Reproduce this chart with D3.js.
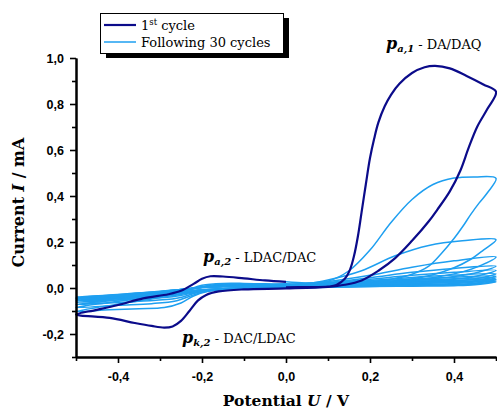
<!DOCTYPE html>
<html>
<head>
<meta charset="utf-8">
<script src="https://cdn.jsdelivr.net/npm/d3@7"></script>
<style>
  body { margin: 0; background: #fff; }
  svg { display: block; }
</style>
</head>
<body>
<script>
const svgWidth = 497
const svgHeight = 410

const margin = { top: 58, right: 1, bottom: 53, left: 76 }
const chartWidth = svgWidth - margin.left - margin.right
const chartHeight = svgHeight - margin.top - margin.bottom

const colorFirst = "#0b0b8a"
const colorFollow = "#1e9ff0"

// tick values
const xMajor = [-0.4, -0.2, 0.0, 0.2, 0.4]
const xMinor = [-0.5, -0.3, -0.1, 0.1, 0.3, 0.5]
const yMajor = [-0.2, 0.0, 0.2, 0.4, 0.6, 0.8, 1.0]
const yMinor = [-0.3, -0.1, 0.1, 0.3, 0.5, 0.7, 0.9]

const legendLabels = ["1st cycle", "Following 30 cycles"]

// [U / V, I / mA]
const cycle01 = [
  [0.0, 0.003], [0.05, 0.004], [0.1, 0.006], [0.12, 0.013], [0.14, 0.04], [0.152, 0.078],
  [0.162, 0.14], [0.171, 0.223], [0.18, 0.33], [0.19, 0.45], [0.2, 0.565], [0.21, 0.65],
  [0.22, 0.72], [0.235, 0.79], [0.25, 0.84], [0.27, 0.888], [0.3, 0.935], [0.33, 0.96],
  [0.355, 0.966], [0.39, 0.955], [0.43, 0.922], [0.47, 0.885], [0.5, 0.853],
  [0.48, 0.78], [0.455, 0.70], [0.435, 0.61], [0.415, 0.51], [0.39, 0.42], [0.36, 0.34],
  [0.34, 0.29], [0.30, 0.205], [0.26, 0.13], [0.22, 0.075], [0.18, 0.033], [0.14, 0.014],
  [0.1, 0.005], [0.0, -0.002], [-0.1, -0.006], [-0.16, -0.015], [-0.19, -0.03], [-0.21, -0.055],
  [-0.23, -0.1], [-0.25, -0.143], [-0.27, -0.167], [-0.29, -0.172], [-0.32, -0.165],
  [-0.36, -0.152], [-0.42, -0.13], [-0.5, -0.115],
  [-0.45, -0.095], [-0.4, -0.074], [-0.34, -0.045], [-0.28, -0.027], [-0.25, -0.012],
  [-0.22, 0.018], [-0.2, 0.04], [-0.18, 0.051], [-0.15, 0.05], [-0.1, 0.042], [-0.05, 0.033],
  [0.0, 0.027]
]

const cycle02 = [
  [0.0, 0.027], [0.05, 0.022], [0.1, 0.03], [0.15, 0.075], [0.2, 0.165], [0.25, 0.285],
  [0.3, 0.385], [0.35, 0.45], [0.4, 0.478], [0.45, 0.483], [0.5, 0.477],
  [0.48, 0.415], [0.46, 0.37], [0.44, 0.32], [0.42, 0.265], [0.4, 0.215], [0.37, 0.15],
  [0.34, 0.095], [0.3, 0.06], [0.25, 0.038], [0.2, 0.025], [0.1, 0.012], [0.0, 0.004],
  [-0.1, -0.003], [-0.18, -0.012], [-0.22, -0.035], [-0.25, -0.065], [-0.29, -0.085],
  [-0.35, -0.09], [-0.42, -0.095], [-0.5, -0.102],
  [-0.45, -0.085], [-0.4, -0.07], [-0.33, -0.05], [-0.27, -0.03], [-0.23, -0.005],
  [-0.2, 0.012], [-0.15, 0.02], [-0.1, 0.02], [-0.05, 0.018], [0.0, 0.018]
]

const cycle03 = [
  [0.0, 0.018], [0.05, 0.02], [0.1, 0.035], [0.18, 0.075], [0.26, 0.14], [0.34, 0.185],
  [0.42, 0.205], [0.5, 0.21],
  [0.47, 0.165], [0.44, 0.125], [0.4, 0.088], [0.35, 0.058], [0.3, 0.04], [0.2, 0.022],
  [0.1, 0.01], [0.0, 0.003], [-0.1, -0.003], [-0.18, -0.01], [-0.22, -0.03], [-0.26, -0.055],
  [-0.32, -0.068], [-0.4, -0.075], [-0.5, -0.085],
  [-0.45, -0.07], [-0.4, -0.058], [-0.33, -0.04], [-0.27, -0.022], [-0.22, -0.002],
  [-0.18, 0.012], [-0.12, 0.016], [-0.05, 0.015], [0.0, 0.015]
]

const cycle04 = [
  [0.0, 0.015], [0.1, 0.028], [0.2, 0.055], [0.3, 0.09], [0.4, 0.118], [0.5, 0.135],
  [0.46, 0.095], [0.42, 0.07], [0.36, 0.048], [0.3, 0.035], [0.2, 0.02], [0.1, 0.01],
  [0.0, 0.003], [-0.15, -0.006], [-0.21, -0.02], [-0.26, -0.045], [-0.35, -0.058], [-0.5, -0.072],
  [-0.42, -0.055], [-0.33, -0.035], [-0.25, -0.015], [-0.2, 0.004], [-0.15, 0.012],
  [-0.05, 0.013], [0.0, 0.013]
]

const cycle05 = [
  [0.0, 0.013], [0.1, 0.024], [0.2, 0.045], [0.3, 0.068], [0.4, 0.085], [0.5, 0.095],
  [0.46, 0.07], [0.4, 0.05], [0.3, 0.032], [0.2, 0.02], [0.1, 0.01], [0.0, 0.003],
  [-0.15, -0.005], [-0.21, -0.018], [-0.27, -0.038], [-0.38, -0.05], [-0.5, -0.063],
  [-0.42, -0.048], [-0.33, -0.03], [-0.25, -0.012], [-0.2, 0.003], [-0.15, 0.01],
  [-0.05, 0.012], [0.0, 0.012]
]

const cycle06 = [
  [0.0, 0.012], [0.1, 0.022], [0.2, 0.038], [0.3, 0.055], [0.4, 0.068], [0.5, 0.077],
  [0.45, 0.05], [0.4, 0.038], [0.3, 0.026], [0.2, 0.017], [0.1, 0.009], [0.0, 0.003],
  [-0.15, -0.004], [-0.21, -0.015], [-0.27, -0.033], [-0.38, -0.045], [-0.5, -0.057],
  [-0.42, -0.043], [-0.33, -0.027], [-0.25, -0.01], [-0.2, 0.003], [-0.15, 0.009],
  [-0.05, 0.011], [0.0, 0.011]
]

const cycle07 = [
  [0.0, 0.011], [0.1, 0.02], [0.2, 0.033], [0.3, 0.046], [0.4, 0.056], [0.5, 0.062],
  [0.45, 0.04], [0.4, 0.03], [0.3, 0.021], [0.2, 0.015], [0.1, 0.008], [0.0, 0.003],
  [-0.15, -0.004], [-0.21, -0.013], [-0.27, -0.03], [-0.38, -0.042], [-0.5, -0.053],
  [-0.42, -0.04], [-0.33, -0.025], [-0.25, -0.009], [-0.2, 0.003], [-0.15, 0.008],
  [-0.05, 0.01], [0.0, 0.01]
]

const cycle08 = [
  [0.0, 0.01], [0.1, 0.018], [0.2, 0.029], [0.3, 0.039], [0.4, 0.047], [0.5, 0.052],
  [0.45, 0.032], [0.4, 0.025], [0.3, 0.018], [0.2, 0.013], [0.1, 0.007], [0.0, 0.002],
  [-0.15, -0.004], [-0.21, -0.012], [-0.27, -0.028], [-0.38, -0.04], [-0.5, -0.05],
  [-0.42, -0.038], [-0.33, -0.023], [-0.25, -0.008], [-0.2, 0.003], [-0.15, 0.008],
  [-0.05, 0.009], [0.0, 0.009]
]

const cycle09 = [
  [0.0, 0.009], [0.1, 0.016], [0.2, 0.025], [0.3, 0.033], [0.4, 0.04], [0.5, 0.044],
  [0.45, 0.026], [0.4, 0.02], [0.3, 0.015], [0.2, 0.011], [0.1, 0.006], [0.0, 0.002],
  [-0.15, -0.003], [-0.21, -0.011], [-0.27, -0.026], [-0.38, -0.038], [-0.5, -0.047],
  [-0.42, -0.036], [-0.33, -0.022], [-0.25, -0.007], [-0.2, 0.003], [-0.15, 0.007],
  [-0.05, 0.009], [0.0, 0.009]
]

const cycle10 = [
  [0.0, 0.009], [0.1, 0.015], [0.2, 0.022], [0.3, 0.029], [0.4, 0.034], [0.5, 0.037],
  [0.45, 0.021], [0.4, 0.016], [0.3, 0.012], [0.2, 0.009], [0.1, 0.005], [0.0, 0.002],
  [-0.15, -0.003], [-0.21, -0.01], [-0.27, -0.025], [-0.38, -0.036], [-0.5, -0.044],
  [-0.42, -0.034], [-0.33, -0.021], [-0.25, -0.007], [-0.2, 0.002], [-0.15, 0.006],
  [-0.05, 0.008], [0.0, 0.008]
]

const cycle11 = [
  [0.0, 0.008], [0.1, 0.013], [0.2, 0.019], [0.3, 0.025], [0.4, 0.029], [0.5, 0.031],
  [0.45, 0.017], [0.4, 0.013], [0.3, 0.01], [0.2, 0.007], [0.1, 0.004], [0.0, 0.001],
  [-0.15, -0.003], [-0.21, -0.01], [-0.27, -0.024], [-0.38, -0.034], [-0.5, -0.041],
  [-0.42, -0.032], [-0.33, -0.02], [-0.25, -0.006], [-0.2, 0.002], [-0.15, 0.006],
  [-0.05, 0.008], [0.0, 0.008]
]

const cycle12 = [
  [0.0, 0.008], [0.1, 0.012], [0.2, 0.017], [0.3, 0.021], [0.4, 0.025], [0.5, 0.027],
  [0.45, 0.014], [0.4, 0.01], [0.3, 0.008], [0.2, 0.006], [0.1, 0.003], [0.0, 0.001],
  [-0.15, -0.003], [-0.21, -0.009], [-0.27, -0.023], [-0.38, -0.032], [-0.5, -0.039],
  [-0.42, -0.03], [-0.33, -0.019], [-0.25, -0.006], [-0.2, 0.002], [-0.15, 0.005],
  [-0.05, 0.007], [0.0, 0.007]
]

const followingCycles = [cycle02, cycle03, cycle04, cycle05, cycle06, cycle07,
  cycle08, cycle09, cycle10, cycle11, cycle12]

const svg = d3.select("body").append("svg")
  .attr("width", svgWidth)
  .attr("height", svgHeight)

const chartG = svg.append("g")
  .attr("transform", `translate(${margin.left}, ${margin.top})`)

const x = d3.scaleLinear().domain([-0.5, 0.5]).range([0, chartWidth])
const y = d3.scaleLinear().domain([-0.3, 1.0]).range([chartHeight, 0])

const fmt = d => d.toFixed(1).replace(".", ",")

const line = d3.line()
  .x(d => x(d[0]))
  .y(d => y(d[1]))
  .curve(d3.curveCatmullRom.alpha(0.5))

// curves
followingCycles.forEach(c => {
  chartG.append("path")
    .attr("d", line(c))
    .attr("fill", "none")
    .attr("stroke", colorFollow)
    .attr("stroke-width", 1.5)
})

chartG.append("path")
  .attr("d", line(cycle01))
  .attr("fill", "none")
  .attr("stroke", colorFirst)
  .attr("stroke-width", 2.2)

// axes
const styleAxis = g => {
  g.select(".domain").attr("stroke-width", 2).attr("stroke", "#000")
  g.selectAll(".tick line").attr("stroke-width", 1.6).attr("stroke", "#000")
  g.selectAll(".tick text")
    .attr("font-family", "Liberation Sans, Arial, sans-serif")
    .attr("font-weight", "bold")
    .attr("font-size", 12.5)
    .attr("fill", "#000")
}

chartG.append("g")
  .attr("transform", `translate(0, ${chartHeight})`)
  .call(d3.axisBottom(x).tickValues(xMinor).tickSize(4).tickFormat("").tickSizeOuter(0))
  .call(styleAxis)

chartG.append("g")
  .attr("transform", `translate(0, ${chartHeight})`)
  .call(d3.axisBottom(x).tickValues(xMajor).tickSize(6).tickPadding(9).tickFormat(fmt).tickSizeOuter(0))
  .call(styleAxis)

chartG.append("g")
  .call(d3.axisLeft(y).tickValues(yMinor).tickSize(4).tickFormat("").tickSizeOuter(0))
  .call(styleAxis)

chartG.append("g")
  .call(d3.axisLeft(y).tickValues(yMajor).tickSize(6).tickPadding(6).tickFormat(fmt).tickSizeOuter(0))
  .call(styleAxis)

// axis titles
const xTitle = svg.append("text")
  .attr("x", margin.left + chartWidth / 2)
  .attr("y", 406)
  .attr("text-anchor", "middle")
  .attr("font-family", "DejaVu Serif, serif")
  .attr("font-weight", "bold")
  .attr("font-size", 15.5)
xTitle.append("tspan").text("Potential ")
xTitle.append("tspan").attr("font-style", "italic").text("U")
xTitle.append("tspan").text(" / V")

const yTitle = svg.append("text")
  .attr("transform", `translate(24, ${margin.top + chartHeight / 2 - 5}) rotate(-90)`)
  .attr("text-anchor", "middle")
  .attr("font-family", "DejaVu Serif, serif")
  .attr("font-weight", "bold")
  .attr("font-size", 16)
yTitle.append("tspan").text("Current ")
yTitle.append("tspan").attr("font-style", "italic").text("I")
yTitle.append("tspan").text(" / mA")

// peak annotations
const addNote = (px, py, sub, label) => {
  const t = svg.append("text")
    .attr("x", px)
    .attr("y", py)
    .attr("font-family", "DejaVu Serif, serif")
  t.append("tspan")
    .attr("font-weight", "bold").attr("font-style", "italic").attr("font-size", 16)
    .text("p")
  t.append("tspan")
    .attr("font-weight", "bold").attr("font-style", "italic").attr("font-size", 10)
    .attr("dy", 3)
    .text(sub)
  t.append("tspan")
    .attr("font-size", 13).attr("dy", -3)
    .text(" - " + label)
}

addNote(386, 49, "a,1", "DA/DAQ")
addNote(203, 262, "a,2", "LDAC/DAC")
addNote(182, 343, "k,2", "DAC/LDAC")

// legend
const legendG = svg.append("g").attr("transform", "translate(100, 13)")
legendG.append("rect")
  .attr("x", 6).attr("y", 5).attr("width", 183).attr("height", 40)
  .attr("fill", "#000")
legendG.append("rect")
  .attr("x", 0.5).attr("y", 0.5).attr("width", 183).attr("height", 40)
  .attr("fill", "#fff").attr("stroke", "#000")

const legendColors = [colorFirst, colorFollow]
legendLabels.forEach((label, i) => {
  const ly = 12 + i * 17
  legendG.append("line")
    .attr("x1", 4).attr("x2", 36).attr("y1", ly).attr("y2", ly)
    .attr("stroke", legendColors[i])
    .attr("stroke-width", i === 0 ? 2.2 : 1.5)
  const t = legendG.append("text")
    .attr("x", 41).attr("y", ly + 4.5)
    .attr("font-family", "DejaVu Serif, serif")
    .attr("font-size", 13)
  if (i === 0) {
    t.append("tspan").text(label.slice(0, 1))
    t.append("tspan").attr("font-size", 8.5).attr("dy", -5).text(label.slice(1, 3))
    t.append("tspan").attr("dy", 5).text(label.slice(3))
  } else {
    t.text(label)
  }
})
</script>
</body>
</html>
